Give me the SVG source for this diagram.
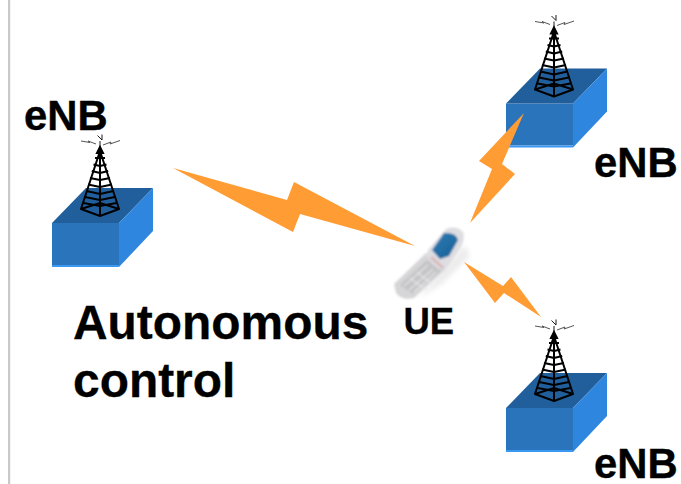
<svg xmlns="http://www.w3.org/2000/svg" width="681" height="484" viewBox="0 0 681 484">
<style>
text{font-family:"Liberation Sans",Arial,sans-serif;font-weight:700;fill:#000}
.lbl{font-size:41.8px;stroke:#000;stroke-width:.4}
.big{font-size:47.9px;stroke:#000;stroke-width:.3}
.bolt{fill:#ff9c33}
.t{fill:none;stroke:#000;stroke-width:2;stroke-linejoin:round}
.z{fill:none;stroke:#000;stroke-width:.9}
.z2{fill:none;stroke:#555;stroke-width:1}
</style>
<defs>
<filter id="soft" x="-20%" y="-20%" width="140%" height="140%"><feGaussianBlur stdDeviation=".8"/></filter>
<filter id="shadow" x="-30%" y="-30%" width="160%" height="160%"><feGaussianBlur stdDeviation="2.500"/></filter>
<linearGradient id="scr" x1="0" y1="0" x2="1" y2="1"><stop offset="0" stop-color="#2f7db5"/><stop offset="1" stop-color="#145f94"/></linearGradient>
<g id="station">
<path d="M52 223H119V265H52Z" fill="#2a74bb"/>
<path d="M52 265H119V267H52Z" fill="#3a97f2"/>
<path d="M52 223L86 188H153L119 223Z" fill="#215f9c"/>
<path d="M119 223L153 188V231L119 267Z" fill="#2e86df"/>
<path class="t" d="M100 151L81 209L100 216L119 209L100 151V216"/>
<path class="t" d="M95 158H105M93.500 164.500L100 166L106.500 164.500M91.800 171L100 173L108.200 171M90 178L100 180L110 178M88 184.500L100 187L112 184.500M86.500 191L100 194L113.500 191M85 197L100 200L115 197M83.500 203L100 206L116.500 203M81 209L100 203L119 209"/>
<path d="M100 147L97 153H103Z" fill="#000" stroke="#000" stroke-width="2"/>
<path class="z" d="M100 147V141M97.500 135.500L102 140V134.500"/>
<path class="z2" d="M81 141L90 142.500L88 141L96 144"/>
<path class="z2" d="M103 145L111 142L110 144L120 140.500"/>
</g>
</defs>
<rect width="681" height="484" fill="#fff"/>
<rect x="8" y="0" width="2.200" height="484" fill="#c9c9c9"/>
<g id="enb-left">
<use href="#station"/>
<text class="lbl" x="24" y="130">eNB</text>
</g>
<g id="enb-top">
<use href="#station" transform="translate(454 -119.500)"/>
<text class="lbl" x="594" y="177">eNB</text>
</g>
<g id="enb-bottom">
<use href="#station" transform="translate(454 185)"/>
<text class="lbl" x="594" y="478">eNB</text>
</g>
<g id="ue">
<path d="M465 245L470 256L442 284L418 298Z" fill="#ececec" filter="url(#shadow)"/>
<g filter="url(#soft)">
<path d="M394 284L426 253L446 269L414 298Q402 301 396 293Z" fill="#d6d6d8"/>
<path d="M400 285L427 260L441 271L413 294Z" fill="#c4c4c7"/>
<path d="M404 286L428 265M409 290L433 269M414 292L436 272M410 278L426 290M417 272L432 284" stroke="#e6e6e8" stroke-width="1.200" fill="none"/>
<path d="M428 250L446 229Q456 225 463 232Q466 240 458 252L447 268L438 269L426 256Z" fill="#dedde1"/>
<path d="M432 250L444 233Q456 232 458 240L449 256L440 259Z" fill="url(#scr)"/>
<path d="M431 257L443 268" stroke="#d9b9bb" stroke-width="3" fill="none"/>
</g>
<text x="403.500" y="334" font-size="36.500" stroke="#000" stroke-width=".3">UE</text>
</g>
<g id="caption">
<text class="big" x="73" y="339">Autonomous</text>
<text class="big" x="73" y="397">control</text>
</g>
<g id="connectors">
<path class="bolt" d="M173 168L287 200L294 182L415 246L300 214L293 232Z"/>
<path class="bolt" d="M524 113L479 161L492 169L470 223L515 174L502 164Z"/>
<path class="bolt" d="M464 262L495 303L504 293L541 317L511 277L503 286Z"/>
</g>
</svg>
